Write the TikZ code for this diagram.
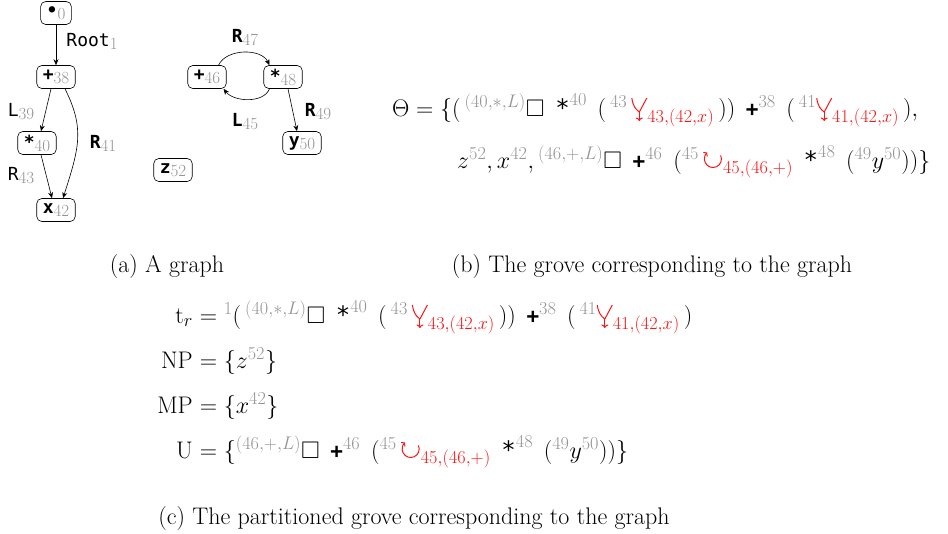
\RequirePackage{fix-cm}
\documentclass[tikz,border=0pt]{standalone}
\usepackage{amsmath,amssymb}
\usepackage{fontspec}
\newfontfamily\monof{DejaVu Sans Mono}
\usetikzlibrary{arrows.meta,calc}
\makeatletter
\renewcommand\defaultscriptratio{.76}
\makeatother
\definecolor{gr}{gray}{0.58}
\definecolor{rd}{RGB}{250,20,20}
\newcommand{\gsub}[1]{\raisebox{-3pt}{\textcolor{gr}{\rmfamily\fontsize{17}{17}\selectfont #1}}}
\newcommand{\g}[1]{\textcolor{gr}{#1}}
\newcommand{\rr}[1]{\textcolor{rd}{#1}}
\newcommand{\opS}{\mathord{\mbox{\monof *}}}
\newcommand{\opP}{\mathord{\mbox{\monof\bfseries\fontsize{21}{21}\selectfont +}}}
\newcommand{\mergesym}{\mathord{\tikz[baseline={(0,5pt)},x=1pt,y=1pt,line width=1pt,rd]{%
  \draw (0,23) .. controls (1,15) and (4,11.5) .. (7.5,9);
  \draw (15,23) -- (7.5,9);
  \draw[-{To[length=3.5pt,width=7pt]}] (7.5,9) -- (7.5,0);}}}
\newcommand{\loopsym}{\mathord{\tikz[baseline={(0,-9pt)},x=1pt,y=1pt,line width=1pt,rd]{%
  \draw[-{To[length=3pt,width=6pt]}] (25:8.5) arc (25:-228:8.5);}}}
\tikzset{
  gnode/.style={draw, rounded corners=5pt, line width=0.6pt, minimum height=23pt,
    inner xsep=6pt, inner ysep=2pt, font=\monof\fontsize{18}{18}\selectfont},
  elab/.style={inner sep=0pt, font=\monof\fontsize{18}{18}\selectfont},
  arr/.style={-{Stealth[length=6pt,width=5pt]}, line width=0.6pt},
  captext/.style={inner sep=0pt, anchor=base, font=\fontsize{24}{28}\selectfont},
  fml/.style={inner sep=0pt, anchor=base west, font=\fontsize{24}{28}\selectfont},
  fmr/.style={inner sep=0pt, anchor=base east, font=\fontsize{24}{28}\selectfont}
}
\begin{document}
\begin{tikzpicture}[x=1pt,y=-1pt]
\useasboundingbox (0,0) rectangle (948,533);
% graph (a)
\node[gnode] (n0) at (56,13) {\textbf{•}\gsub{0}};
\node[gnode] (n38) at (56,77) {\textbf{+}\gsub{38}};
\node[gnode] (n40) at (37,143) {\textbf{*}\gsub{40}};
\node[gnode] (n42) at (56,210) {\textbf{x}\gsub{42}};
\node[gnode] (n46) at (207,77) {\textbf{+}\gsub{46}};
\node[gnode] (n48) at (283,77) {\textbf{*}\gsub{48}};
\node[gnode] (n50) at (302,143) {\textbf{y}\gsub{50}};
\node[gnode] (n52) at (173,170) {\textbf{z}\gsub{52}};
\draw[arr] (n0) -- (n38);
\draw[arr] ([xshift=-5pt]n38.south) -- ([xshift=4pt]n40.north);
\draw[arr] ([xshift=4pt]n40.south) -- ([xshift=-4pt]n42.north);
\draw[arr] ([xshift=9pt]n38.south) .. controls +(20,40) and +(16,-50) .. ([xshift=7pt]n42.north);
\draw[arr] ([xshift=-8pt]n46.north east) .. controls +(8,-17) and +(-8,-17) .. ([xshift=6pt]n48.north west);
\draw[arr] ([xshift=6pt]n48.south west) .. controls +(-6,15) and +(10,13) .. ([xshift=-3pt]n46.south east);
\draw[arr] ([xshift=5pt]n48.south) -- ([xshift=-5pt]n50.north);
\node[elab] (lroot) at (92,41) {Root\gsub{1}};
\node[elab] (l39) at (21,112) {L\gsub{39}};
\node[elab] (l43) at (21,176) {R\gsub{43}};
\node[elab] (l41) at (103,143) {\textbf{R}\gsub{41}};
\node[elab] (l47) at (245,38) {\textbf{R}\gsub{47}};
\node[elab] (l45) at (245,122) {\textbf{L}\gsub{45}};
\node[elab] (l49) at (318,112) {\textbf{R}\gsub{49}};
% captions
\node[captext] (ca) at (167,272) {(a) A graph};
\node[captext] (cb) at (652,272) {(b) The grove corresponding to the graph};
\node[captext] (cc) at (414,524) {(c) The partitioned grove corresponding to the graph};
% formula (b)
\node[fml] (b1) at (392,116) {$\Theta = \{(\,{}^{\g{(40,\ast,L)}}\square\;\,\opS^{\g{40}}\;\,(\,{}^{\g{43}}\,\mergesym_{\rr{43,(42,x)}}\,))\;\,\opP^{\g{38}}\;\,(\,{}^{\g{41}}\mergesym_{\rr{41,(42,x)}}\,),$};
\node[fml] (b2) at (457,168) {$z^{\g{52}}, x^{\g{42}}, {}^{\g{(46,+,L)}}\square\;\,\opP^{\g{46}}\;\,({}^{\g{45}}\,\loopsym_{\rr{45,(46,+)}}\;\,\opS^{\g{48}}\;\,({}^{\g{49}}y^{\g{50}}))\}$};
% formula (c)
\node[fmr] (c1l) at (193,323) {$\mathrm{t}_r$};
\node[fml] (c1r) at (193,323) {${}= {}^{\g{1}}(\,{}^{\g{(40,\ast,L)}}\square\;\,\opS^{\g{40}}\;\,(\,{}^{\g{43}}\,\mergesym_{\rr{43,(42,x)}}\,))\;\,\opP^{\g{38}}\;\,(\,{}^{\g{41}}\mergesym_{\rr{41,(42,x)}}\,)$};
\node[fmr] (c2l) at (193,368) {NP};
\node[fml] (c2r) at (193,368) {${}= \{z^{\g{52}}\}$};
\node[fmr] (c3l) at (193,413) {MP};
\node[fml] (c3r) at (193,413) {${}= \{x^{\g{42}}\}$};
\node[fmr] (c4l) at (193,458) {U};
\node[fml] (c4r) at (193,458) {${}= \{{}^{\g{(46,+,L)}}\square\;\,\opP^{\g{46}}\;\,({}^{\g{45}}\,\loopsym_{\rr{45,(46,+)}}\;\,\opS^{\g{48}}\;\,({}^{\g{49}}y^{\g{50}}))\}$};
\end{tikzpicture}
\end{document}
